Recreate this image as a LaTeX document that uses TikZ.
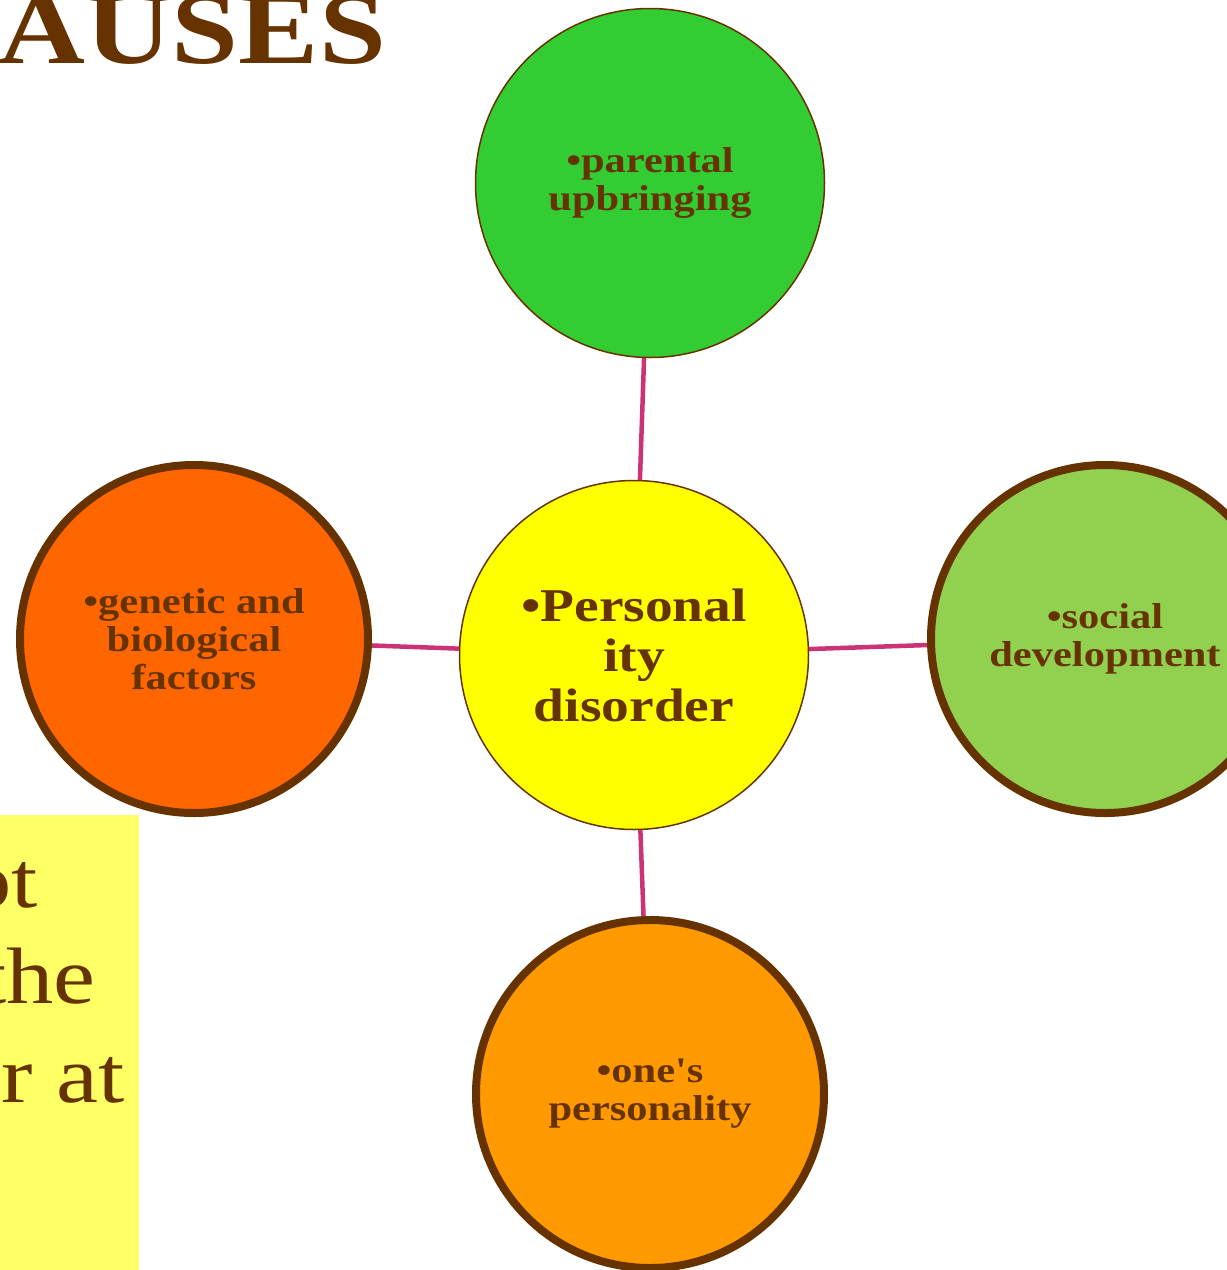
\documentclass[tikz,border=0pt]{standalone}
\usepackage{fontspec}
\setmainfont[FakeStretch=1.18]{Liberation Serif}
\newfontfamily\plainfont[FakeStretch=1.18]{Liberation Serif}
\definecolor{brn}{HTML}{663300}
\definecolor{link}{RGB}{204,51,119}
\definecolor{cgreen}{HTML}{33CC33}
\definecolor{clgreen}{HTML}{92D050}
\definecolor{corange}{HTML}{FF6600}
\definecolor{camber}{HTML}{FF9900}
\definecolor{cyellow}{HTML}{FFFF00}
\definecolor{boxyellow}{HTML}{FFFF66}
\tikzset{
  bubble/.style={circle, draw=brn, text=brn, inner sep=0pt, align=center,
    font=\plainfont\bfseries\fontsize{36}{38}\selectfont},
  thinb/.style={bubble, line width=1.5pt, minimum size=349pt},
  thickb/.style={bubble, line width=8pt, minimum size=348pt},
  conn/.style={draw=link, line width=4.5pt},
  boxtxt/.style={text=brn, inner sep=0pt, anchor=base east, font=\fontsize{80}{100}\selectfont}
}
\begin{document}
\begin{tikzpicture}[x=1pt,y=-1pt]
\useasboundingbox (0,0) rectangle (1227,1270);
\clip (0,0) rectangle (1227,1270);
% yellow text box
\fill[boxyellow] (0,815) rectangle (139,1270);
\node[boxtxt] (l1) at (38,907) {ot};
\node[boxtxt] (l2) at (96,1003) {the};
\node[boxtxt] (l3) at (125,1102) {r at};
% title
\node[text=brn, inner sep=0pt, anchor=base west, font=\bfseries\fontsize{102}{102}\selectfont] (title) at (-2,63) {AUSES};
% circles
\node[thinb, fill=cyellow, font=\plainfont\bfseries\fontsize{47}{50}\selectfont] (c) at (634,655) {•Personal\\ity\\disorder};
\node[thinb, fill=cgreen] (t) at (650,183) {•parental\\upbringing};
\node[thickb, fill=corange] (l) at (194,639) {•genetic and\\biological\\factors};
\node[thickb, fill=clgreen] (r) at (1105,639) {•social\\development};
\node[thickb, fill=camber] (b) at (650,1094) {•one's\\personality};
% connectors
\draw[conn] (t) -- (c);
\draw[conn] (l) -- (c);
\draw[conn] (c) -- (r);
\draw[conn] (c) -- (b);
\end{tikzpicture}
\end{document}
